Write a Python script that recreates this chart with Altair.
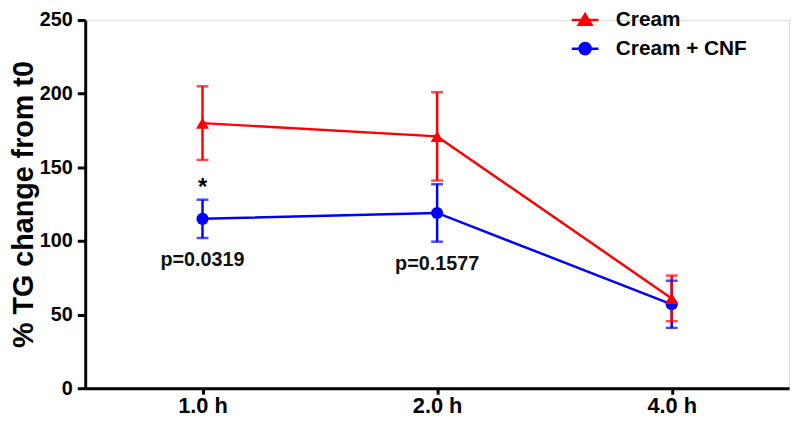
import altair as alt
import pandas as pd

# ---- data ----
times = ["1.0 h", "2.0 h", "4.0 h"]
series_names = ["Cream", "Cream + CNF"]
series_colors = ["#FF0000", "#0000FF"]

cream_mean = [180, 171, 61]
cream_err = [25, 30, 15.5]
cnf_mean = [115, 119, 57]
cnf_err = [13, 19.5, 16]

star_times = ["1.0 h"]
star_values = [136]
star_text = ["*"]

p_times = ["1.0 h", "2.0 h"]
p_values = [87, 84]
p_text = ["p=0.0319", "p=0.1577"]

y_title = "% TG change from t0"

FONT = "Liberation Sans"

rows = []
for name, means, errs in [(series_names[1], cnf_mean, cnf_err), (series_names[0], cream_mean, cream_err)]:
    for t, m, e in zip(times, means, errs):
        rows.append({"time": t, "series": name, "mean": m, "lo": m - e, "hi": m + e})
df = pd.DataFrame(rows)

stars = pd.DataFrame({"time": star_times, "y": star_values, "label": star_text})
pvals = pd.DataFrame({"time": p_times, "y": p_values, "label": p_text})

ydom = alt.Scale(domain=[0, 250], nice=False, zero=True)
xscale = alt.Scale(domain=times, type="point", padding=0.5)

x_enc = alt.X(
    "time:N",
    scale=xscale,
    sort=times,
    axis=alt.Axis(
        title=None, labelAngle=0, labelFont=FONT, labelFontSize=22, labelFontWeight="bold",
        labelColor="black", tickSize=6, tickWidth=3, tickColor="black", domainWidth=3,
        domainColor="black", labelPadding=2, grid=False,
    ),
)
y_enc = alt.Y(
    "mean:Q",
    scale=ydom,
    axis=alt.Axis(
        title=y_title, titleFont=FONT, titleFontSize=29, titleFontWeight="bold", titleColor="black",
        titlePadding=1,
        values=list(range(0, 251, 25)),
        labelExpr="datum.value % 50 == 0 ? datum.label : ''",
        labelFont=FONT, labelFontSize=20, labelFontWeight="bold", labelColor="black",
        tickSize={"condition": {"test": "datum.value % 50 == 0", "value": 8}, "value": 4},
        tickWidth=3, tickColor="black", domainWidth=3, domainColor="black", labelPadding=5,
        grid=False,
    ),
)

# colour scale for drawn marks (domain listed in reverse so its hidden legend
# is not merged with the visible legend built below)
cscale = alt.Scale(domain=series_names[::-1], range=series_colors[::-1])
lscale = alt.Scale(domain=series_names, range=series_colors)

base = alt.Chart(df)
col = alt.Color("series:N", scale=cscale, legend=None)

lines = base.mark_line(strokeWidth=2.5).encode(x=x_enc, y=y_enc, color=col)
err = base.mark_rule(strokeWidth=2.5).encode(
    x=x_enc, y=alt.Y("lo:Q", scale=ydom), y2="hi:Q", color=col
)
cap_lo = base.mark_tick(thickness=2.5, size=12).encode(
    x=x_enc, y=alt.Y("lo:Q", scale=ydom), color=col
)
cap_hi = base.mark_tick(thickness=2.5, size=12).encode(
    x=x_enc, y=alt.Y("hi:Q", scale=ydom), color=col
)
pts_cnf = base.transform_filter(alt.datum.series == series_names[1]).mark_point(
    filled=True, shape="circle", size=150, opacity=1
).encode(x=x_enc, y=alt.Y("mean:Q", scale=ydom), color=col)
pts_cream = base.transform_filter(alt.datum.series == series_names[0]).mark_point(
    filled=True, shape="triangle-up", size=170, opacity=1
).encode(x=x_enc, y=alt.Y("mean:Q", scale=ydom), color=col)

# legend-only layer (invisible marks); legend symbols = line + marker
tri_path = "M-1,0H1M-0.48,0.36L0,-0.44L0.48,0.36Z"
circ_path = "M-1,0H1M-0.42,0A0.42,0.42,0,1,0,0.42,0A0.42,0.42,0,1,0,-0.42,0Z"
leg = alt.Legend(
    title=None, orient="none", legendX=490, legendY=-15, symbolSize=729, symbolOpacity=1,
    symbolStrokeWidth=2.5, labelFont=FONT, labelFontSize=21, labelFontWeight="bold",
    labelColor="black", labelOffset=16, rowPadding=4, labelLimit=0, padding=0,
)
legend_layer = base.mark_point(opacity=0).encode(
    x=x_enc, y=alt.Y("mean:Q", scale=ydom),
    fill=alt.Fill("series:N", scale=lscale, legend=leg),
    stroke=alt.Stroke("series:N", scale=lscale, legend=leg),
    shape=alt.Shape("series:N", scale=alt.Scale(domain=series_names, range=[tri_path, circ_path]), legend=leg),
)

star_layer = alt.Chart(stars).mark_text(
    font=FONT, fontSize=24, fontWeight="bold", color="black", baseline="middle"
).encode(x=alt.X("time:N", scale=xscale), y=alt.Y("y:Q", scale=ydom), text="label:N")
p_layer = alt.Chart(pvals).mark_text(
    font=FONT, fontSize=20, fontWeight="bold", color="#111111", baseline="middle"
).encode(x=alt.X("time:N", scale=xscale), y=alt.Y("y:Q", scale=ydom), text="label:N")

chart = alt.layer(
    lines, err, cap_lo, cap_hi, pts_cnf, pts_cream, legend_layer, star_layer, p_layer
).properties(
    width=711, height=372,
    autosize=alt.AutoSizeParams(type="none"),
    padding={"left": 78, "top": 10, "right": 3, "bottom": 35},
).configure_view(stroke=None).configure(background="white")

chart.save("out.html", embed_options={"renderer": "svg", "actions": False})
